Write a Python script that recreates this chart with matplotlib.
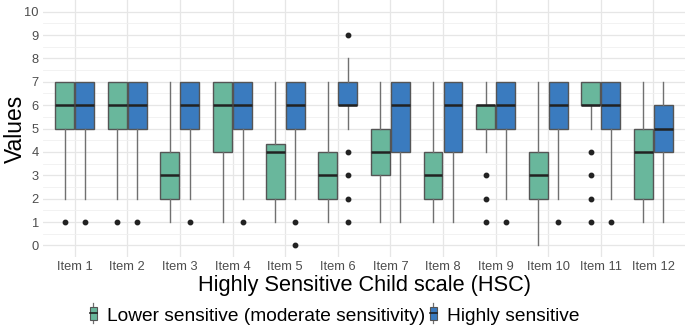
import matplotlib
matplotlib.use("Agg")
import matplotlib.pyplot as plt
from matplotlib.legend_handler import HandlerBase
from matplotlib.patches import Rectangle
from matplotlib.lines import Line2D
import numpy as np

plt.rcParams["font.family"] = ["Liberation Sans", "DejaVu Sans"]

# ------------------------------------------------------------------
# Datos (estadisticos de cada caja)
# ------------------------------------------------------------------
items = [f"Item {i}" for i in range(1, 13)]

# Lower sensitive (moderate sensitivity)
low_whislo = [2, 2, 1, 1, 1, 1, 1, 1, 4, 0, 5, 1]
low_q1     = [5, 5, 2, 4, 2, 2, 3, 2, 5, 2, 6, 2]
low_med    = [6, 6, 3, 6, 4, 3, 4, 3, 6, 3, 6, 4]
low_q3     = [7, 7, 4, 7, 4.35, 4, 5, 4, 6, 4, 7, 5]
low_whishi = [7, 7, 7, 7, 7, 7, 7, 7, 7, 7, 7, 7]
low_fliers = [[1], [1], [], [], [], [], [], [], [3, 2, 1], [], [4, 3, 2, 1], []]

# Highly sensitive
high_whislo = [2, 2, 2, 2, 2, 5, 1, 1, 2, 2, 2, 1]
high_q1     = [5, 5, 5, 5, 5, 6, 4, 4, 5, 5, 5, 4]
high_med    = [6, 6, 6, 6, 6, 6, 6, 6, 6, 6, 6, 5]
high_q3     = [7, 7, 7, 7, 7, 7, 7, 7, 7, 7, 7, 6]
high_whishi = [7, 7, 7, 7, 7, 8, 7, 7, 7, 7, 7, 7]
high_fliers = [[1], [1], [1], [1], [1, 0], [9, 4, 3, 2, 1], [], [], [1], [1], [1], []]

groups = ["Lower sensitive (moderate sensitivity)", "Highly sensitive"]
colors = ["#69b79c", "#3a7bbf"]

EDGE = "#555555"
WHISK = "#707070"


def make_stats(whislo, q1, med, q3, whishi, fliers):
    return [dict(whislo=a, q1=b, med=c, q3=d, whishi=e, fliers=f)
            for a, b, c, d, e, f in zip(whislo, q1, med, q3, whishi, fliers)]


stats_low = make_stats(low_whislo, low_q1, low_med, low_q3, low_whishi, low_fliers)
stats_high = make_stats(high_whislo, high_q1, high_med, high_q3, high_whishi, high_fliers)

fig = plt.figure(figsize=(6.85, 3.3), dpi=100)
ax = fig.add_axes([0.063, 0.221, 0.937, 0.779])

x = np.arange(1, len(items) + 1)
offset = 0.19
width = 0.36

for stats, pos, col in [(stats_low, x - offset, colors[0]),
                        (stats_high, x + offset, colors[1])]:
    ax.bxp(stats, positions=pos, widths=width, patch_artist=True,
           showcaps=False, manage_ticks=False,
           boxprops=dict(facecolor=col, edgecolor=EDGE, linewidth=1.0),
           medianprops=dict(color="#222222", linewidth=1.8),
           whiskerprops=dict(color=WHISK, linewidth=1.0),
           flierprops=dict(marker="o", markerfacecolor="#222222",
                           markeredgecolor="#222222", markersize=3.2),
           zorder=3)

ax.set_xlim(0.4, 12.6)
ax.set_ylim(-0.5, 10.5)
ax.set_xticks(x)
ax.set_xticklabels(items)
ax.set_yticks(range(0, 11))
ax.set_yticks(np.arange(0.5, 10.5, 1), minor=True)

ax.grid(True, which="major", color="#e6e6e6", linewidth=0.9, zorder=0)
ax.grid(True, which="minor", axis="y", color="#f0f0f0", linewidth=0.6, zorder=0)
ax.set_axisbelow(True)
for s in ax.spines.values():
    s.set_visible(False)
ax.tick_params(which="both", length=0)
ax.tick_params(axis="both", labelsize=9.3, labelcolor="#4d4d4d", pad=3)

ax.set_ylabel("Values", fontsize=16.5)
ax.yaxis.set_label_coords(-0.025, 0.5)
ax.set_xlabel("Highly Sensitive Child scale (HSC)", fontsize=15.7, labelpad=1)


# ------------------------------------------------------------------
# Leyenda con glifo de boxplot
# ------------------------------------------------------------------
class BoxHandler(HandlerBase):
    def create_artists(self, legend, orig, xd, yd, w, h, fontsize, trans):
        col = orig.get_facecolor()
        bw = w * 0.8
        x0 = xd + (w - bw) / 2
        cx = xd + w / 2
        arts = [
            Line2D([cx, cx], [yd - h * 0.2, yd + h * 1.2], color=WHISK, lw=0.9,
                   transform=trans),
            Rectangle((x0, yd + h * 0.05), bw, h * 0.9, facecolor=col,
                      edgecolor=EDGE, lw=0.8, transform=trans),
            Line2D([x0, x0 + bw], [yd + h * 0.5, yd + h * 0.5], color="#222222",
                   lw=1.2, transform=trans),
        ]
        return arts


handles = [Rectangle((0, 0), 1, 1, facecolor=c) for c in colors]
fig.legend(handles, groups, loc="center", bbox_to_anchor=(0.488, 0.042),
           ncol=2, frameon=False, fontsize=13.8, handler_map={Rectangle: BoxHandler()},
           handlelength=0.45, handleheight=0.8, handletextpad=0.5, columnspacing=0.2)

fig.savefig("out.png", dpi=100)
